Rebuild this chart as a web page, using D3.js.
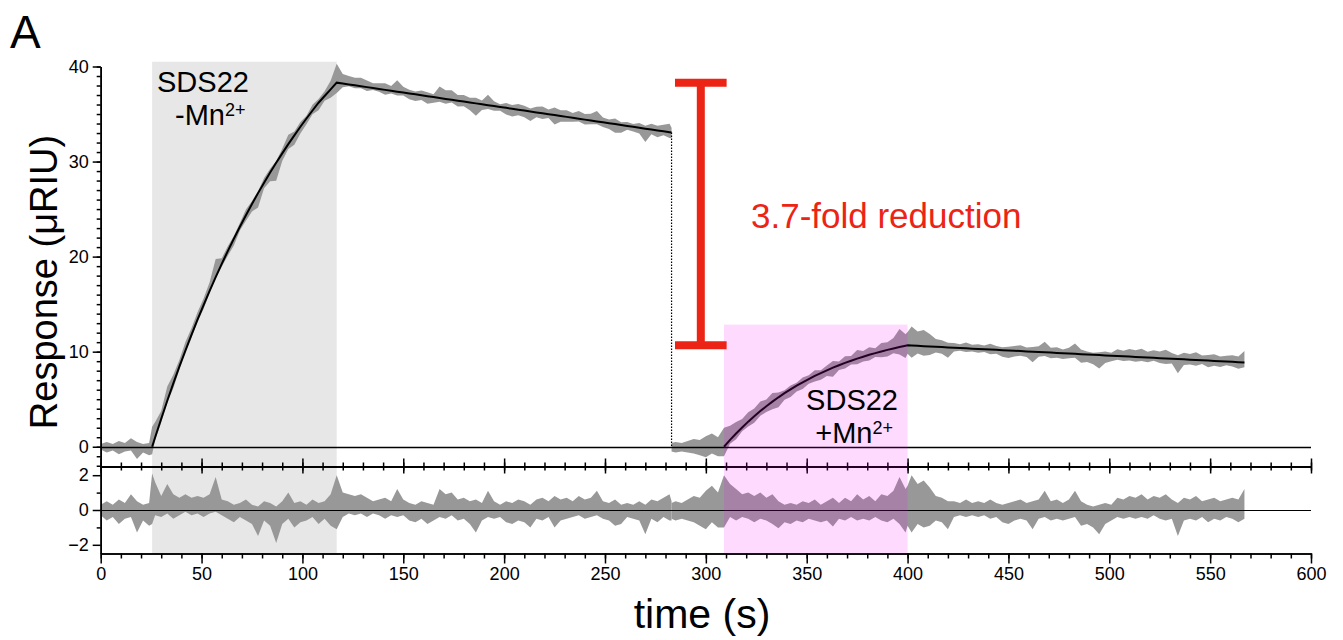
<!DOCTYPE html>
<html>
<head>
<meta charset="utf-8">
<script src="https://cdn.jsdelivr.net/npm/d3@7"></script>
<style>
body { margin: 0; background: #fff; }
text { font-family: "Liberation Sans", Arial, Helvetica, sans-serif; }
</style>
</head>
<body>
<div id="chart"></div>
<script>
// ---- data ----
// run 1 : SDS22 without Mn2+ (baseline, association, dissociation)
var t1 = [0,3,6,9,12,15,18,21,24,25.5,27,30,33,36,39,42,45,48,51,54,57,60,63,66,69,72,75,78,81,84,87,90,93,96,99,102,105,108,111,114,117,
  120,123,126,129,132,135,138,141,144,147,150,153,156,159,162,165,168,171,174,177,180,183,186,189,192,195,198,201,204,207,210,213,216,219,222,
  225,228,231,234,237,240,243,246,249,252,255,258,261,264,267,270,273,276,279,282,283];
var fit1 = [null,null,null,null,null,null,null,null,null,0,
  1.00,2.95,4.84,6.66,8.42,10.12,11.77,13.36,14.90,16.40,17.84,19.23,20.58,21.88,23.14,24.36,25.54,26.68,27.78,28.84,29.87,30.86,31.83,32.76,33.66,34.53,35.37,36.19,36.9,37.6,38.3,
  38.21,38.11,38.02,37.92,37.83,37.73,37.64,37.54,37.45,37.35,37.26,37.16,37.07,36.97,36.88,36.78,36.69,36.59,36.50,36.40,36.31,36.21,36.12,36.02,35.93,35.84,35.74,35.65,35.55,35.46,
  35.36,35.27,35.17,35.08,34.98,34.89,34.79,34.70,34.60,34.51,34.41,34.32,34.22,34.13,34.03,33.94,33.84,33.75,33.65,33.56,33.46,33.37,33.27,33.18,33.09,33.06];
var res1Hi = [0.3,0.5,0.3,0.6,0.4,0.9,0.5,0.3,0.4,2.1,
  1.6,0.8,1.5,0.9,0.7,0.9,0.7,0.8,0.7,0.9,1.9,0.6,0.5,0.3,0.4,0.6,0.3,0.2,0.5,0.4,0.2,0.5,1.0,0.4,0.5,0.3,0.6,0.4,0.5,0.9,2.0,
  1.0,0.9,0.8,0.9,0.7,0.5,0.6,0.7,0.5,1.2,0.6,0.4,0.3,0.5,0.4,0.3,1.2,0.9,1.0,0.6,0.7,0.5,0.6,0.4,1.1,0.5,0.3,0.5,0.4,0.6,
  0.5,0.3,0.6,0.7,0.5,0.8,0.6,0.7,0.5,0.8,0.6,0.7,1.1,0.5,0.4,0.6,0.3,0.4,0.3,0.5,0.3,0.6,0.5,0.7,0.9,0.5];
var res1Lo = [-0.3,-0.6,-0.4,-0.8,-0.5,-0.4,-1.3,-0.6,-0.9,-0.8,
  -0.3,-0.4,-0.2,-0.5,-0.3,-0.1,-0.3,-0.2,-0.4,-0.2,-0.1,-0.3,-0.5,-0.7,-0.4,-0.6,-0.8,-1.5,-0.6,-0.9,-1.9,-0.8,-0.5,-1.0,-0.7,-0.6,-0.4,-0.8,-0.5,-0.9,-1.1,
  -0.4,-0.2,-0.3,-0.2,-0.4,-0.2,-0.3,-0.5,-0.3,-0.4,-0.3,-0.6,-0.7,-0.5,-0.8,-0.6,-0.4,-0.5,-0.3,-0.6,-0.5,-0.8,-1.3,-0.6,-0.4,-0.5,-0.4,-0.7,-0.8,-0.6,
  -0.7,-1.0,-0.5,-0.6,-0.4,-1.0,-0.6,-0.5,-0.4,-0.3,-0.5,-0.4,-0.3,-0.5,-0.6,-0.9,-0.8,-0.4,-0.5,-0.6,-1.4,-0.5,-0.7,-0.4,-0.6,-0.6];

// run 2 : SDS22 with Mn2+
var t2 = [283,285,288,291,294,297,300,303,306,309,312,315,318,321,324,327,330,333,336,339,342,345,348,351,354,357,360,363,366,369,372,375,378,381,384,387,390,393,396,399,400,
  402,405,408,411,414,417,420,423,426,429,432,435,438,441,444,447,450,453,456,459,462,465,468,471,474,477,480,483,486,489,492,495,498,501,
  504,507,510,513,516,519,522,525,528,531,534,537,540,543,546,549,552,555,558,561,564,567];
var fit2 = [null,null,null,null,null,null,null,null,null,0,
  0.72,1.39,2.03,2.64,3.21,3.75,4.26,4.74,5.20,5.63,6.03,6.42,6.78,7.12,7.45,7.75,8.04,8.32,8.57,8.82,9.05,9.27,9.47,9.67,9.85,10.02,10.19,10.34,10.49,10.63,10.67,
  10.65,10.62,10.58,10.55,10.52,10.49,10.45,10.42,10.39,10.36,10.32,10.29,10.26,10.23,10.19,10.16,10.13,10.10,10.07,10.03,10.00,9.97,9.94,9.90,9.87,9.84,9.81,9.77,9.74,9.71,
  9.68,9.64,9.61,9.58,9.55,9.51,9.48,9.45,9.42,9.39,9.35,9.32,9.29,9.26,9.22,9.19,9.16,9.13,9.09,9.06,9.03,9.00,8.96,8.93,8.90,8.87];
var res2Hi = [0.4,0.5,0.4,0.6,0.8,0.7,1.1,1.4,1.0,
  2.0,1.5,1.2,0.9,1.0,0.8,1.0,0.7,0.9,0.5,0.3,0.4,0.3,0.5,0.4,0.6,0.3,0.5,0.7,0.4,0.7,0.5,0.9,0.6,0.8,0.5,0.9,0.8,1.1,1.9,1.2,1.4,
  2.0,1.5,1.7,1.3,0.8,0.7,0.5,0.5,0.4,0.6,0.4,0.5,0.4,0.6,0.4,0.3,0.4,0.5,0.6,0.4,0.5,0.6,1.1,0.5,0.6,0.4,0.6,1.1,0.5,0.3,
  0.2,0.3,0.4,0.3,0.7,0.6,0.8,0.7,0.9,0.6,0.8,0.7,0.9,0.6,0.4,0.7,0.6,0.8,0.5,0.6,0.7,0.5,0.6,0.7,0.6,1.2];
var res2Lo = [-0.5,-0.6,-0.5,-0.6,-0.7,-0.9,-1.1,-0.7,-1.0,
  -1.0,-0.4,-0.6,-0.4,-0.5,-0.7,-0.5,-0.6,-0.8,-1.05,-0.7,-0.8,-0.6,-0.7,-0.5,-0.6,-0.7,-0.6,-0.95,-0.5,-0.6,-0.4,-0.6,-0.5,-0.6,-0.4,-0.6,-0.7,-0.5,-0.8,-1.3,-0.9,
  -1.3,-0.8,-1.0,-0.9,-0.6,-0.7,-1.1,-0.4,-0.3,-0.4,-0.3,-0.4,-0.3,-0.5,-0.4,-0.7,-0.8,-0.6,-0.5,-0.6,-1.1,-0.5,-0.4,-0.6,-0.5,-0.6,-0.5,-0.4,-0.9,-0.8,
  -1.0,-1.4,-0.8,-0.6,-0.4,-0.5,-0.4,-0.5,-0.4,-0.5,-0.3,-0.5,-0.6,-0.5,-1.5,-0.6,-0.5,-0.6,-0.4,-0.7,-0.5,-0.6,-0.4,-0.5,-0.7,-0.5];

// injection windows (s) and axis ticks
var inject1 = [25.5, 117];
var inject2 = [309, 400];
var xTicks = [0,50,100,150,200,250,300,350,400,450,500,550,600];
var yTicks = [0,10,20,30,40];
var resTicks = [-2,0,2];

// ---- page ----
var W = 1343, H = 640;
var svg = d3.select("#chart").append("svg")
    .attr("width", W)
    .attr("height", H);

// scales
var x = d3.scaleLinear().domain([0, 600]).range([100.7, 1311]);
var yTop = d3.scaleLinear().domain([-2.08, 40]).range([466.5, 66.5]);
var yRes = d3.scaleLinear().domain([-2.5, 2.5]).range([553.5, 466.5]);

function rows(t, fit, hi, lo) {
  return t.map(function(d, i) {
    return {t: d, fit: fit[i], hi: hi[i], lo: lo[i], c: fit[i] == null ? 0 : fit[i]};
  });
}
var run1 = rows(t1, fit1, res1Hi, res1Lo);
var run2 = rows(t2, fit2, res2Hi, res2Lo);

// grey window behind the first injection
svg.append("rect")
    .attr("x", x(inject1[0]))
    .attr("width", x(inject1[1]) - x(inject1[0]))
    .attr("y", yTop(40.5))
    .attr("height", yRes(-2.5) - yTop(40.5))
    .attr("fill", "#e7e7e7");

// noisy data as a band, response = fit + residual
var bandTop = d3.area()
    .x(function(d) { return x(d.t); })
    .y0(function(d) { return yTop(d.c + d.lo); })
    .y1(function(d) { return yTop(d.c + d.hi); });
var bandRes = d3.area()
    .x(function(d) { return x(d.t); })
    .y0(function(d) { return yRes(d.lo); })
    .y1(function(d) { return yRes(d.hi); });

[run1, run2].forEach(function(run) {
  svg.append("path").datum(run).attr("d", bandTop).attr("fill", "#989898");
  svg.append("path").datum(run).attr("d", bandRes).attr("fill", "#989898");
});

// zero lines (snapped to the pixel grid)
var y0Top = Math.round(yTop(0)) + 0.5, y0Res = Math.round(yRes(0)) + 0.5;
svg.append("line")
    .attr("x1", x(0)).attr("x2", x(600))
    .attr("y1", y0Top).attr("y2", y0Top)
    .attr("stroke", "#000").attr("stroke-width", 1.3);
svg.append("line")
    .attr("x1", x(0)).attr("x2", x(600))
    .attr("y1", y0Res).attr("y2", y0Res)
    .attr("stroke", "#000").attr("stroke-width", 1);

// fitted curves
var fitLine = d3.line()
    .defined(function(d) { return d.fit != null; })
    .x(function(d) { return x(d.t); })
    .y(function(d) { return yTop(d.fit); });
[run1, run2].forEach(function(run) {
  svg.append("path").datum(run)
      .attr("d", fitLine)
      .attr("fill", "none")
      .attr("stroke", "#000")
      .attr("stroke-width", 2);
});

// dotted drop between the two runs
var last1 = run1[run1.length - 1];
svg.append("line")
    .attr("x1", x(last1.t)).attr("x2", x(last1.t))
    .attr("y1", yTop(last1.fit)).attr("y2", yTop(0))
    .attr("stroke", "#000")
    .attr("stroke-width", 1.2)
    .attr("stroke-dasharray", "1.5,1.5");

// ---- axes ----
function styleAxis(g) {
  g.attr("font-size", 18).attr("font-family", "Liberation Sans, Arial, sans-serif");
  g.select(".domain").attr("stroke-width", 1.6);
  g.selectAll(".tick line").attr("stroke-width", 1.5);
  g.selectAll(".tick text").attr("fill", "#000");
}
var minorX = d3.range(0, 601, 10);
var intFmt = d3.format("d");

// left axis, response panel
svg.append("g").attr("transform", "translate(" + x(0) + ",0)")
    .call(d3.axisLeft(yTop).tickValues(d3.range(-2, 41)).tickSize(4).tickSizeOuter(0).tickFormat(""))
    .call(styleAxis);
svg.append("g").attr("transform", "translate(" + x(0) + ",0)")
    .call(d3.axisLeft(yTop).tickValues(yTicks).tickSize(8).tickSizeOuter(0).tickPadding(4).tickFormat(intFmt))
    .call(styleAxis);

// left axis, residual panel
svg.append("g").attr("transform", "translate(" + x(0) + ",0)")
    .call(d3.axisLeft(yRes).tickValues([-1, 1]).tickSize(4).tickSizeOuter(0).tickFormat(""))
    .call(styleAxis);
svg.append("g").attr("transform", "translate(" + x(0) + ",0)")
    .call(d3.axisLeft(yRes).tickValues(resTicks).tickSize(8).tickSizeOuter(0).tickPadding(4).tickFormat(intFmt))
    .call(styleAxis);

// middle axis: ticks cross the line
var yMid = yRes(2.5);
svg.append("g").attr("transform", "translate(0," + yMid + ")")
    .call(d3.axisBottom(x).tickValues(minorX).tickSize(4).tickSizeOuter(0).tickFormat(""))
    .call(styleAxis);
svg.append("g").attr("transform", "translate(0," + yMid + ")")
    .call(d3.axisTop(x).tickValues(minorX).tickSize(4).tickSizeOuter(0).tickFormat(""))
    .call(styleAxis);
svg.append("g").attr("transform", "translate(0," + yMid + ")")
    .call(d3.axisBottom(x).tickValues(xTicks).tickSize(7).tickSizeOuter(0).tickFormat(""))
    .call(styleAxis);
svg.append("g").attr("transform", "translate(0," + yMid + ")")
    .call(d3.axisTop(x).tickValues(xTicks).tickSize(8).tickSizeOuter(0).tickFormat(""))
    .call(styleAxis);

// bottom axis
var yBot = yRes(-2.5);
svg.append("g").attr("transform", "translate(0," + yBot + ")")
    .call(d3.axisBottom(x).tickValues(minorX).tickSize(5).tickSizeOuter(0).tickFormat(""))
    .call(styleAxis);
svg.append("g").attr("transform", "translate(0," + yBot + ")")
    .call(d3.axisBottom(x).tickValues(xTicks).tickSize(10).tickSizeOuter(0).tickPadding(4).tickFormat(intFmt))
    .call(styleAxis);

// pink window over the second injection (drawn on top, translucent)
svg.append("rect")
    .attr("x", x(inject2[0]))
    .attr("width", x(inject2[1]) - x(inject2[0]))
    .attr("y", yTop(12.85))
    .attr("height", yRes(-2.5) - yTop(12.85))
    .attr("fill", "#ff00ff")
    .attr("fill-opacity", 0.145);

// ---- labels ----
svg.append("text").attr("x", 10).attr("y", 48).attr("font-size", 46).text("A");

svg.append("text")
    .attr("transform", "translate(57,282) rotate(-90)")
    .attr("text-anchor", "middle")
    .attr("font-size", 38)
    .text("Response (μRIU)");

svg.append("text")
    .attr("x", 702).attr("y", 628)
    .attr("text-anchor", "middle")
    .attr("font-size", 41)
    .text("time (s)");

// two-line window labels
svg.append("text").attr("x", 157).attr("y", 92).attr("font-size", 29).text("SDS22");
var m1 = svg.append("text").attr("x", 175).attr("y", 125).attr("font-size", 29);
m1.append("tspan").text("-Mn");
m1.append("tspan").attr("dy", -9).attr("font-size", 18).text("2+");

svg.append("text").attr("x", 898).attr("y", 410).attr("font-size", 29).attr("text-anchor", "end").text("SDS22");
var m2 = svg.append("text").attr("x", 893).attr("y", 443).attr("font-size", 29).attr("text-anchor", "end");
m2.append("tspan").text("+Mn");
m2.append("tspan").attr("dy", -9).attr("font-size", 18).text("2+");

// ---- fold-reduction bracket ----
var red = "#ec2415";
var peak1 = d3.max(fit1), peak2 = d3.max(fit2);
var bx = 297.5, cap = 12.8;
svg.append("line")
    .attr("x1", x(bx)).attr("x2", x(bx))
    .attr("y1", yTop(peak1)).attr("y2", yTop(peak2))
    .attr("stroke", red).attr("stroke-width", 8);
[peak1, peak2].forEach(function(p) {
  svg.append("line")
      .attr("x1", x(bx - cap)).attr("x2", x(bx + cap))
      .attr("y1", yTop(p)).attr("y2", yTop(p))
      .attr("stroke", red).attr("stroke-width", 8);
});
svg.append("text")
    .attr("x", 751).attr("y", 228)
    .attr("font-size", 35)
    .attr("fill", red)
    .text("3.7-fold reduction");
</script>
</body>
</html>
